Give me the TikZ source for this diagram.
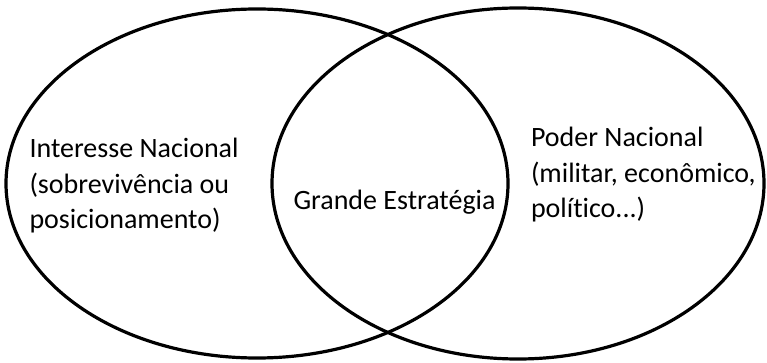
\documentclass[tikz,border=0pt]{standalone}
\usepackage{fontspec}
\setmainfont[Ligatures=NoCommon]{Carlito}
\usetikzlibrary{shapes.geometric}
\begin{document}
\begin{tikzpicture}[x=1pt,y=-1pt,
  setshape/.style={draw=black, line width=3.2pt, ellipse, inner sep=0pt, outer sep=0pt},
  label/.style={inner sep=0pt, outer sep=0pt, align=left, anchor=base west,
    font=\fontsize{28}{35.5}\selectfont}]
\useasboundingbox (0,0) rectangle (767,363);
\node[setshape, minimum width=502pt, minimum height=349pt] (left) at (257,183.5) {};
\node[setshape, minimum width=492pt, minimum height=351pt] (right) at (518,183.5) {};
\node[label] (interest) at (29.5,229) {Interesse Nacional\\(sobrevivência ou\\posicionamento)};
\node[label] (grand) at (293.5,210) {Grande Estratégia};
\node[label] (power) at (531,218) {Poder Nacional\\(militar, econômico,\\político...)};
\end{tikzpicture}
\end{document}
